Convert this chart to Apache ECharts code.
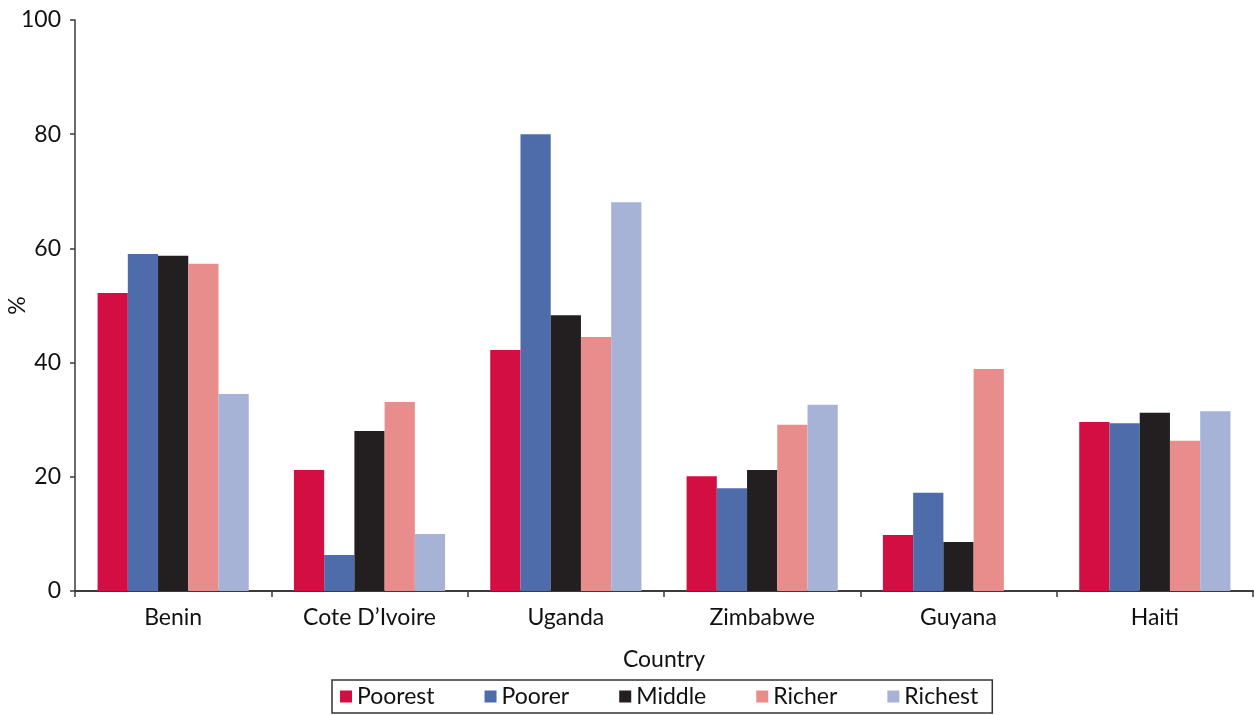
<!DOCTYPE html>
<html>
<head>
<meta charset="utf-8">
<script src="https://cdn.jsdelivr.net/npm/echarts@6/dist/echarts.min.js"></script>
<style>
  html, body { margin: 0; padding: 0; background: #fff; }
  #chart { width: 1254px; height: 715px; }
</style>
</head>
<body>
<div id="chart"></div>
<script>
// Share (%) by wealth quintile, per country
const countries = ['Benin', 'Cote D\u2019Ivoire', 'Uganda', 'Zimbabwe', 'Guyana', 'Haiti'];
const poorest = [52.2, 21.2, 42.2, 20.1, 9.8, 29.6];
const poorer  = [59.0, 6.3, 80.0, 18.0, 17.2, 29.4];
const middle  = [58.7, 28.0, 48.3, 21.2, 8.6, 31.2];
const richer  = [57.3, 33.1, 44.5, 29.1, 38.9, 26.3];
const richest = [34.5, 10.0, 68.1, 32.6, null, 31.5];
const yTicks  = [0, 20, 40, 60, 80, 100];

const seriesDefs = [
  { name: 'Poorest', data: poorest, color: '#D30E43' },
  { name: 'Poorer',  data: poorer,  color: '#4E6CAA' },
  { name: 'Middle',  data: middle,  color: '#231F20' },
  { name: 'Richer',  data: richer,  color: '#E88D8B' },
  { name: 'Richest', data: richest, color: '#A6B3D6' }
];

const FONT = 'Lato, "Open Sans", sans-serif';
const TXT = '#111';
const FS = 23;

const chart = echarts.init(document.getElementById('chart'), null, { renderer: 'canvas' });
chart.setOption({
  animation: false,
  backgroundColor: '#fff',
  textStyle: { fontFamily: FONT, color: TXT },
  grid: { left: 75, right: 1, top: 20, bottom: 124, containLabel: false, outerBoundsMode: 'none' },
  legend: {
    left: 332, top: 680,
    padding: [5, 14, 5, 8],
    borderColor: '#333', borderWidth: 1.5, borderRadius: 0,
    itemWidth: 12, itemHeight: 12, itemGap: 50,
    icon: 'rect',
    textStyle: { fontFamily: FONT, fontSize: FS, color: TXT, lineHeight: 23 },
    data: seriesDefs.map(s => s.name)
  },
  xAxis: {
    type: 'category',
    data: countries,
    name: 'Country',
    nameLocation: 'middle',
    nameGap: 57,
    nameMoveOverlap: false,
    nameTextStyle: { fontFamily: FONT, fontSize: FS, color: TXT },
    axisLine: { lineStyle: { color: '#3a3a3a', width: 2 } },
    axisTick: { show: true, alignWithLabel: false, length: 6, lineStyle: { color: '#3a3a3a', width: 1.5 } },
    axisLabel: { fontFamily: FONT, fontSize: FS, color: TXT, margin: 15 },
    splitLine: { show: false }
  },
  yAxis: {
    type: 'value',
    min: yTicks[0], max: yTicks[yTicks.length - 1], interval: 20,
    name: '%',
    nameLocation: 'middle',
    nameRotate: 90,
    nameGap: 46,
    nameMoveOverlap: false,
    nameTextStyle: { fontFamily: FONT, fontSize: FS, color: TXT },
    axisLine: { show: true, lineStyle: { color: '#3a3a3a', width: 1.5 } },
    axisTick: { show: true, length: 5, lineStyle: { color: '#3a3a3a', width: 1.5 } },
    axisLabel: { fontFamily: FONT, fontSize: FS, color: TXT, margin: 14 },
    splitLine: { show: false }
  },
  series: seriesDefs.map(s => ({
    name: s.name,
    type: 'bar',
    data: s.data,
    itemStyle: { color: s.color },
    barGap: '0%',
    barCategoryGap: '23%'
  }))
});
</script>
</body>
</html>
